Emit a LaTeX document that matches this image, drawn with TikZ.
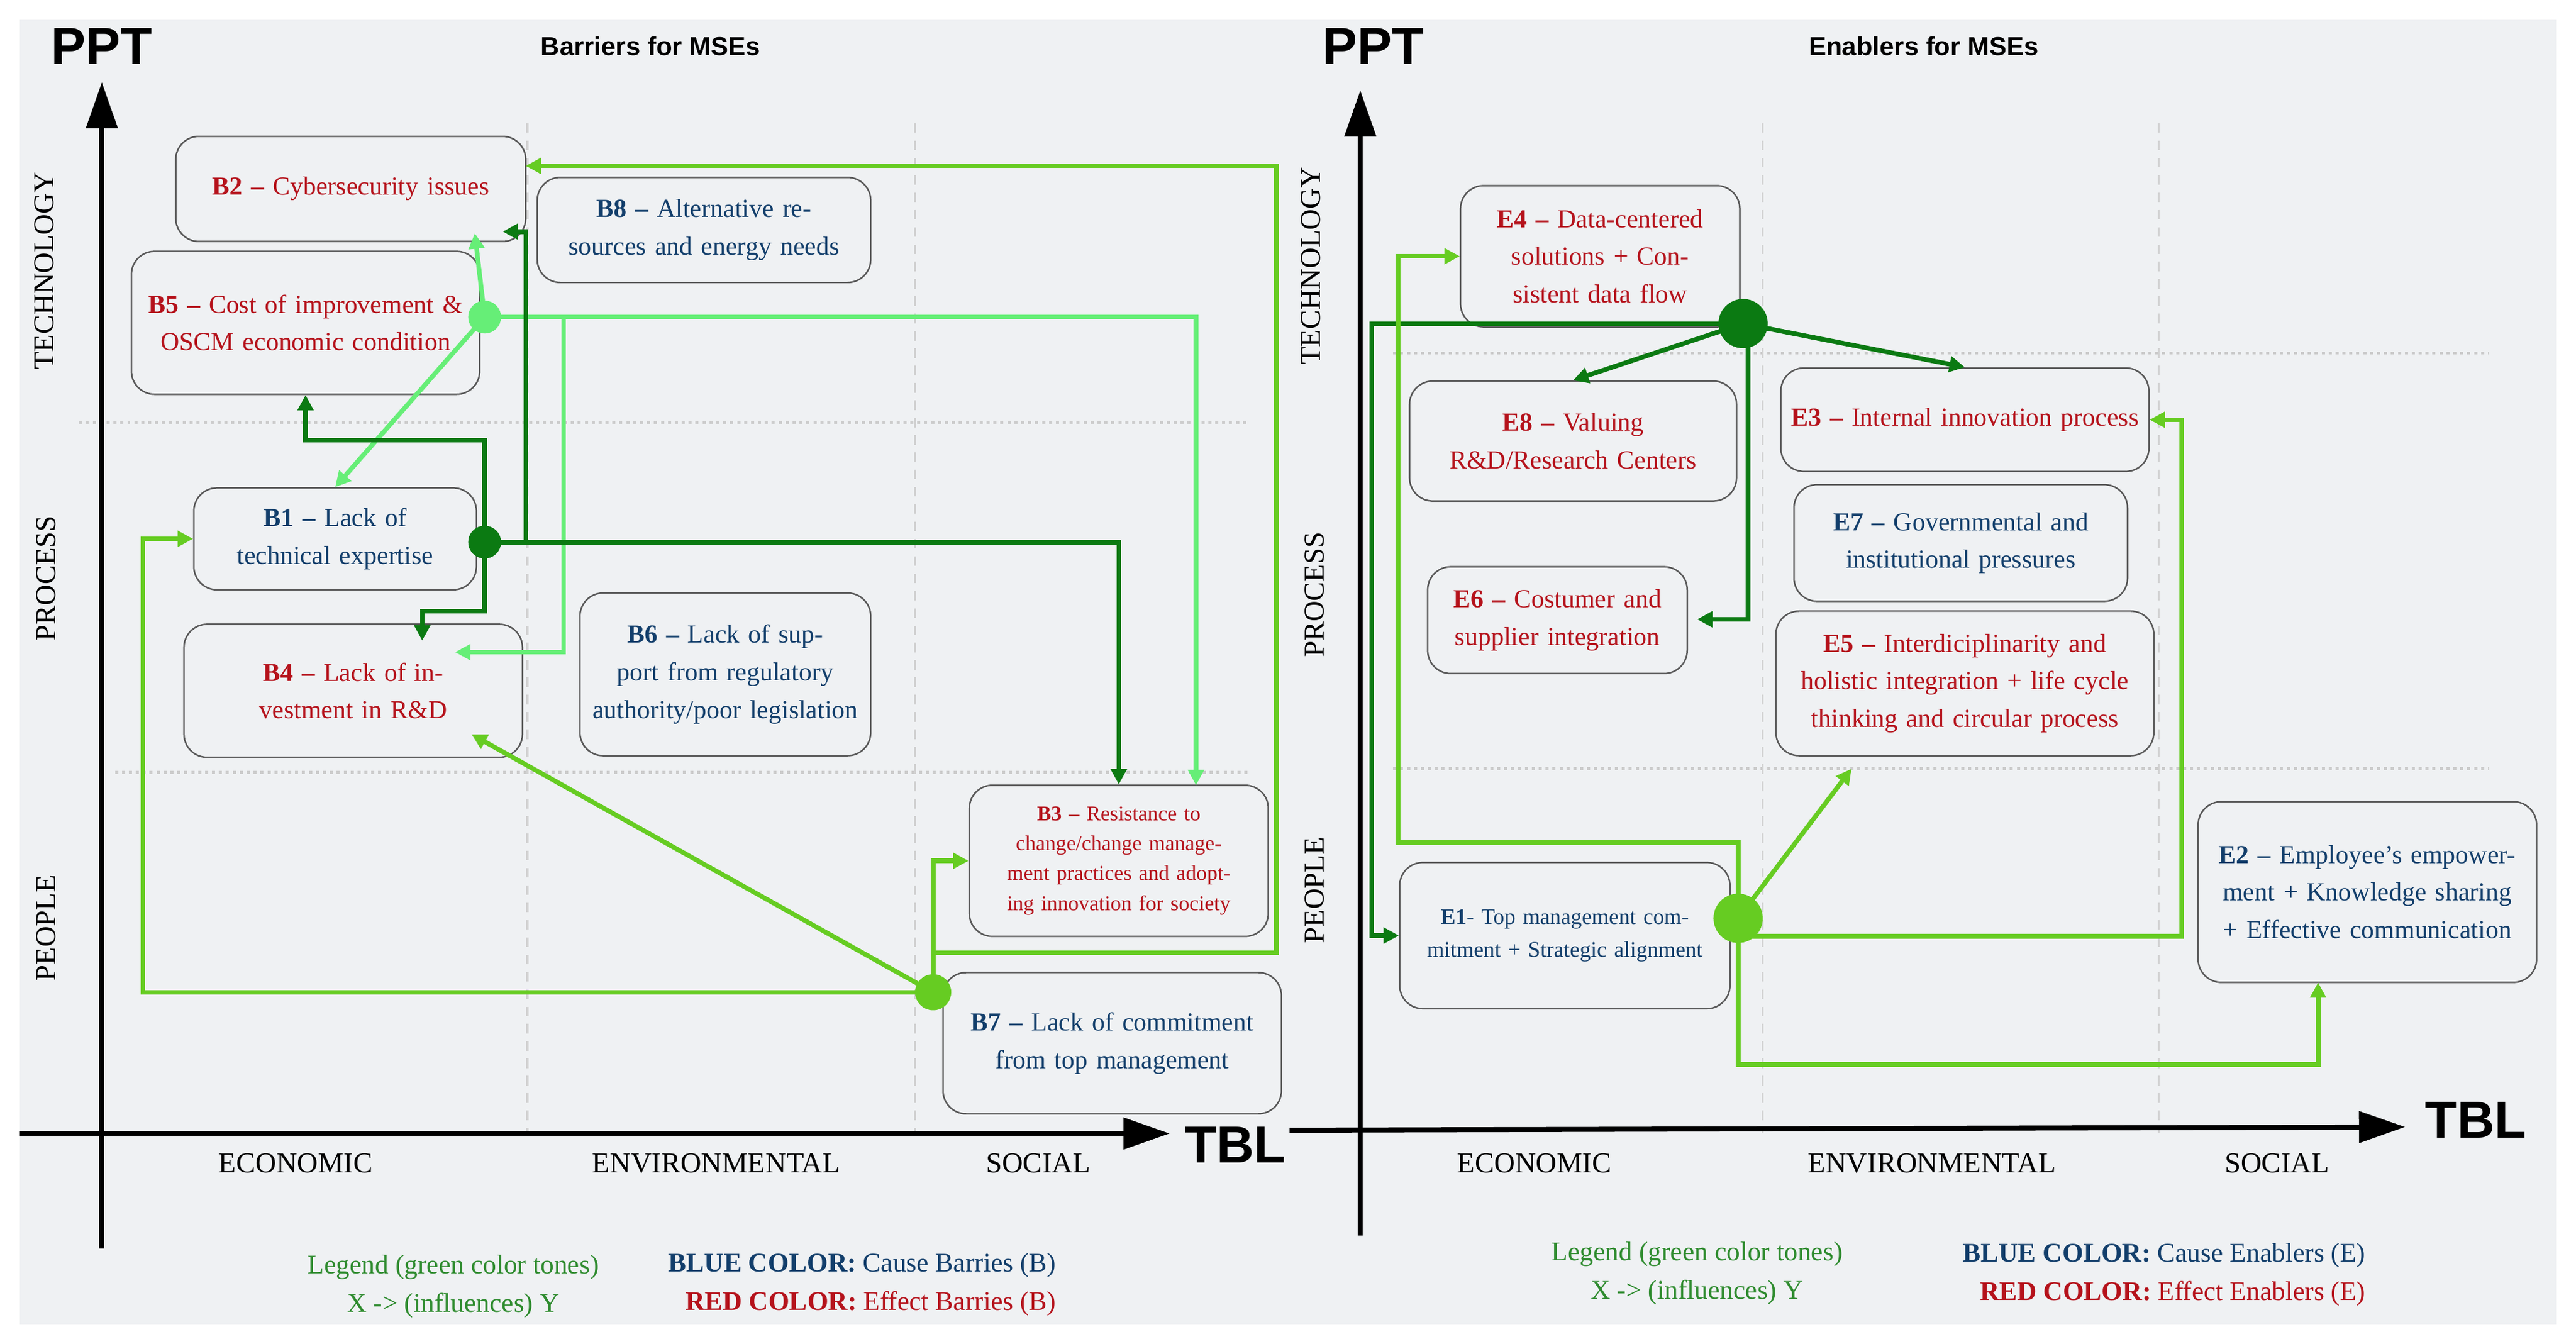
\documentclass[tikz,border=0pt]{standalone}
\usepackage{fontspec}
\setmainfont{Liberation Serif}
\newfontfamily\hd{Liberation Sans}
\usetikzlibrary{arrows.meta}
\definecolor{bg}{HTML}{EFF1F3}
\definecolor{rd}{HTML}{B5121B}
\definecolor{bl}{HTML}{123E6B}
\definecolor{dg}{HTML}{0B7A12}
\definecolor{mg}{HTML}{66CC22}
\definecolor{lg}{HTML}{66EE77}
\definecolor{lgd}{HTML}{2E8B2E}
\tikzset{
 box/.style={draw=black!65,line width=0.8pt,rounded corners=12pt,align=center,inner sep=2pt,font=\fontsize{13.5}{19.5}\selectfont},
 red/.style={text=rd}, blue/.style={text=bl},
 tip/.style={-{Triangle[length=8pt,width=8pt]}},
 DG/.style={draw=dg,line width=2.4pt,tip},
 MG/.style={draw=mg,line width=2.4pt,tip},
 LG/.style={draw=lg,line width=2.4pt,tip},
 axis/.style={line width=2.6pt,-{Triangle[length=24pt,width=16pt]}},
 grid/.style={draw=black!20,line width=1.6pt,dotted},
 vgrid/.style={draw=black!18,line width=1pt,dash pattern=on 5pt off 4pt},
 hub/.style={circle,inner sep=0pt,minimum size=#1},
 side/.style={rotate=90,font=\fontsize{15}{15}\selectfont},
 xl/.style={font=\fontsize{15}{15}\selectfont},
 big/.style={font=\hd\bfseries\fontsize{27}{27}\selectfont},
 ttl/.style={font=\hd\bfseries\fontsize{13.5}{14}\selectfont},
 leg/.style={font=\fontsize{14}{20}\selectfont,align=center}
}
\newcommand\mybox[7]{\node[box,#6,minimum width={(#4-#2)*0.03cm},minimum height={(#5-#3)*0.03cm},text width={(#4-#2-10)*0.03cm}] (#1) at ({(#2+#4)/2},{(#3+#5)/2}) {#7};}
\begin{document}
\begin{tikzpicture}[x=0.03cm,y=-0.03cm]
\useasboundingbox (0,0) rectangle (1568,818);
\fill[bg] (12,12) rectangle (1556,806);
% grids left
\draw[grid] (48,257) -- (760,257);
\draw[grid] (70,470) -- (760,470);
\draw[vgrid] (321,75) -- (321,690);
\draw[vgrid] (557,75) -- (557,690);
% grids right
\draw[grid] (848,215) -- (1515,215);
\draw[grid] (848,468) -- (1515,468);
\draw[vgrid] (1073,75) -- (1073,690);
\draw[vgrid] (1314,75) -- (1314,690);
% axes left
\draw[axis] (62,760) -- (62,50);
\draw[axis] (12,690) -- (712,690);
\node[big] (ppt1) at (62,28) {PPT};
\node[big] (tbl1) at (752,697) {TBL};
\node[ttl] (t1) at (396,28) {Barriers for MSEs};
\node[side] (s1) at (27,165) {TECHNOLOGY};
\node[side] (s2) at (28,352) {PROCESS};
\node[side] (s3) at (28,565) {PEOPLE};
\node[xl] (x1) at (180,708) {ECONOMIC};
\node[xl] (x2) at (436,708) {ENVIRONMENTAL};
\node[xl] (x3) at (632,708) {SOCIAL};
% axes right
\draw[axis] (828,752) -- (828,55);
\draw[axis] (785,688) -- (1464,686);
\node[big] (ppt2) at (836,28) {PPT};
\node[big] (tbl2) at (1507,682) {TBL};
\node[ttl] (t2) at (1171,28) {Enablers for MSEs};
\node[side] (s4) at (798,162) {TECHNOLOGY};
\node[side] (s5) at (800,362) {PROCESS};
\node[side] (s6) at (800,542) {PEOPLE};
\node[xl] (x4) at (934,708) {ECONOMIC};
\node[xl] (x5) at (1176,708) {ENVIRONMENTAL};
\node[xl] (x6) at (1386,708) {SOCIAL};
% boxes left
\mybox{B2}{107}{83}{320}{147}{red}{\textbf{B2 –} Cybersecurity issues}
\mybox{B8}{327}{108}{530}{172}{blue}{\textbf{B8 –} Alternative resources and energy needs}
\mybox{B5}{80}{153}{292}{240}{red}{\textbf{B5 –} Cost of improvement \& OSCM economic condition}
\mybox{B1}{118}{297}{290}{359}{blue}{\textbf{B1 –} Lack of\\technical expertise}
\mybox{B4}{112}{380}{318}{461}{red}{\textbf{B4 –} Lack of investment in R\&D}
\mybox{B6}{353}{361}{530}{460}{blue}{\textbf{B6 –} Lack of support from regulatory authority/poor legislation}
\mybox{B3}{590}{478}{772}{570}{red,font=\fontsize{11}{15.5}\selectfont}{\textbf{B3 –} Resistance to change/change management practices and adopting innovation for society}
\mybox{B7}{574}{592}{780}{678}{blue}{\textbf{B7 –} Lack of commitment from top management}
% boxes right
\mybox{E4}{889}{113}{1059}{199}{red}{\textbf{E4 –} Data-centered solutions + Consistent data flow}
\mybox{E8}{858}{232}{1057}{305}{red}{\textbf{E8 –} Valuing\\R\&D/Research Centers}
\mybox{E3}{1084}{224}{1308}{287}{red}{\textbf{E3 –} Internal innovation process}
\mybox{E7}{1092}{295}{1295}{366}{blue}{\textbf{E7 –} Governmental and institutional pressures}
\mybox{E6}{869}{345}{1027}{410}{red}{\textbf{E6 –} Costumer and supplier integration}
\mybox{E5}{1081}{372}{1311}{460}{red}{\textbf{E5 –} Interdiciplinarity and holistic integration + life cycle thinking and circular process}
\mybox{E1}{852}{525}{1053}{614}{blue,font=\fontsize{11.5}{17}\selectfont}{\textbf{E1}- Top management commitment + Strategic alignment}
\mybox{E2}{1338}{488}{1544}{598}{blue}{\textbf{E2 –} Employee's empowerment + Knowledge sharing + Effective communication}
% hubs
\node[hub=20*0.03cm] (b5hub) at (295,193) {};
\node[hub=20*0.03cm] (b1hub) at (295,330) {};
\node[hub=22*0.03cm] (b7hub) at (568,604) {};
\node[hub=30*0.03cm] (e4hub) at (1061,197) {};
\node[hub=30*0.03cm] (e1hub) at (1058,559) {};
% free ends
\coordinate (a1) at (289,142);
\coordinate (a3) at (277,397);
\coordinate (a4) at (728,478);
\coordinate (c1) at (186,268);
\coordinate (a5) at (306,141);
\coordinate (a6) at (257,390);
\coordinate (a7) at (287,447);
\coordinate (a8) at (320,101);
\coordinate (d1) at (1033,377);
\coordinate (d2) at (1127,468);
\coordinate (d3) at (1411,598);
% light green (B5)
\draw[LG] (b5hub.center) -- (a1);
\draw[LG] (b5hub.center) -- (B1.north);
\draw[LG] (b5hub.center) -- (343,193) -- (343,397) -- (a3);
\draw[LG] (b5hub.center) -| (a4);
% dark green (B1)
\draw[DG] (b1hub.center) |- (c1) -- (B5.south);
\draw[DG] (b1hub.center) -- (320,330) -- (320,141) -- (a5);
\draw[DG] (b1hub.center) -- (295,372) -- (257,372) -- (a6);
\draw[DG] (b1hub.center) -| (B3.north);
% mid green (B7)
\draw[MG] (b7hub.center) -- (87,604) -- (87,328) -- (B1.west);
\draw[MG] (b7hub.center) -- (a7);
\draw[MG] (b7hub.center) -- (568,524) -- (B3.west);
\draw[MG] (b7hub.center) -- (568,580) -- (777,580) -- (777,101) -- (a8);
% right dark
\draw[DG] (e4hub.center) -- (835,197) |- (E1.west);
\draw[DG] (e4hub.center) -- (E8.north);
\draw[DG] (e4hub.center) -- (E3.north);
\draw[DG] (e4hub.center) -- (1064,205) -- (1064,377) -- (d1);
% right mid
\draw[MG] (e1hub.center) -- (1058,513) -- (851,513) |- (E4.west);
\draw[MG] (e1hub.center) -- (d2);
\draw[MG] (e1hub.center) -- (1058,570) -- (1328,570) |- (E3.east);
\draw[MG] (e1hub.center) -- (1058,648) -| (d3);
% hub dots
\fill[lg] (b5hub) circle (10);
\fill[dg] (b1hub) circle (10);
\fill[mg] (b7hub) circle (11);
\fill[dg] (e4hub) circle (15);
\fill[mg] (e1hub) circle (15);
% legends
\node[leg,text=lgd] (l1) at (276,783) {Legend (green color tones)\\X -> (influences) Y};
\node[leg,align=right,anchor=east] (l2) at (647,782) {\textcolor{bl}{\textbf{BLUE COLOR:} Cause Barries (B)}\\\textcolor{rd}{\textbf{RED COLOR:} Effect Barries (B)}};
\node[leg,text=lgd] (l3) at (1033,775) {Legend (green color tones)\\X -> (influences) Y};
\node[leg,align=right,anchor=east] (l4) at (1444,776) {\textcolor{bl}{\textbf{BLUE COLOR:} Cause Enablers (E)}\\\textcolor{rd}{\textbf{RED COLOR:} Effect Enablers (E)}};
\end{tikzpicture}
\end{document}
